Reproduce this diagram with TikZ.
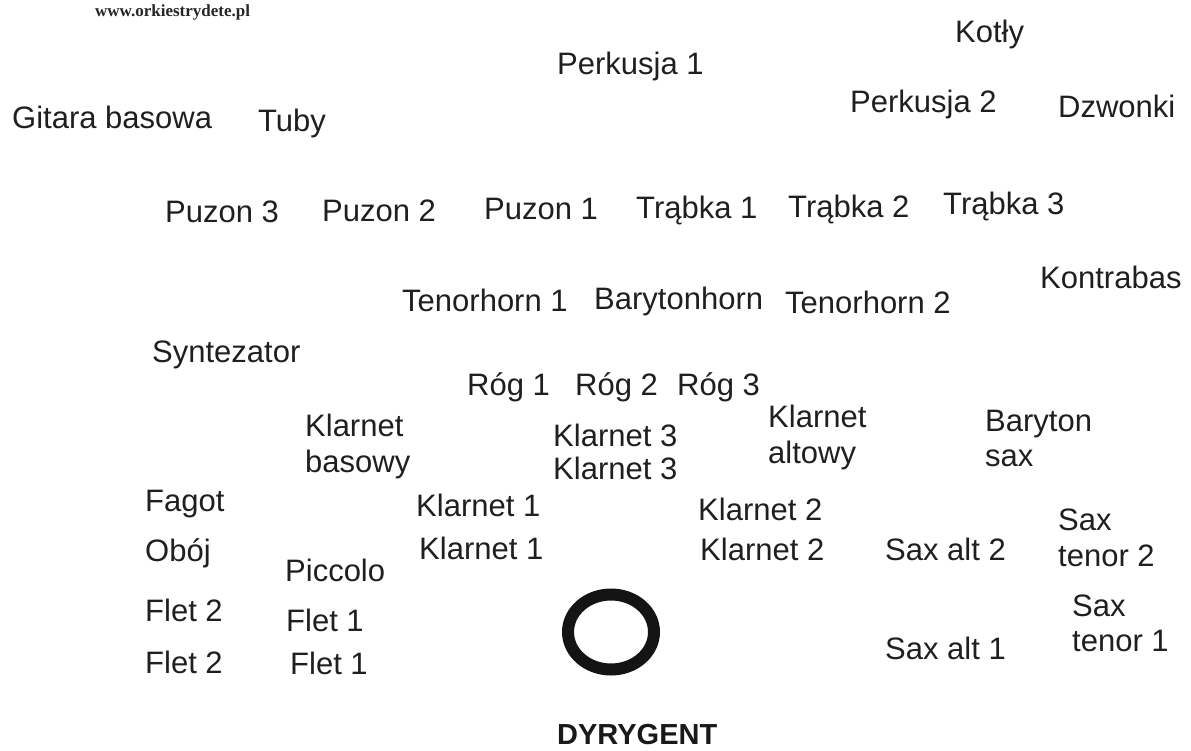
\documentclass[tikz,border=0pt]{standalone}
\usepackage{fontspec}
\setmainfont{Liberation Sans}
\newfontfamily\webfont{Liberation Serif}
\begin{document}
\begin{tikzpicture}[x=1pt,y=-1pt,
  lbl/.style={anchor=base west,inner sep=0pt,text=black!88,font=\fontsize{31}{36}\selectfont},
  web/.style={anchor=base west,inner sep=0pt,text=black!85,font=\webfont\bfseries\fontsize{17}{20}\selectfont},
  boss/.style={anchor=base west,inner sep=0pt,text=black!90,font=\bfseries\fontsize{29}{33}\selectfont},
  podium/.style={draw=black!92,line width=12pt}]
\useasboundingbox (0,0) rectangle (1191,751);
\node[web] (www) at (95,17) {www.orkiestrydete.pl};
\node[lbl] (kotly) at (955,43) {Kotły};
\node[lbl] (perk1) at (557,75) {Perkusja 1};
\node[lbl] (perk2) at (850,113) {Perkusja 2};
\node[lbl] (dzw) at (1058,118) {Dzwonki};
\node[lbl] (git) at (12,129) {Gitara basowa};
\node[lbl] (tuby) at (258,132) {Tuby};
\node[lbl] (puz3) at (165,223) {Puzon 3};
\node[lbl] (puz2) at (322,222) {Puzon 2};
\node[lbl] (puz1) at (484,220) {Puzon 1};
\node[lbl] (tr1) at (636,219) {Trąbka 1};
\node[lbl] (tr2) at (788,218) {Trąbka 2};
\node[lbl] (tr3) at (943,215) {Trąbka 3};
\node[lbl] (kbas) at (1040,289) {Kontrabas};
\node[lbl] (ten1) at (402,311) {Tenorhorn 1};
\node[lbl] (bar) at (594,309) {Barytonhorn};
\node[lbl] (ten2) at (785,313) {Tenorhorn 2};
\node[lbl] (synt) at (152,362) {Syntezator};
\node[lbl] (rog1) at (467,395) {Róg 1};
\node[lbl] (rog2) at (575,395) {Róg 2};
\node[lbl] (rog3) at (677,395) {Róg 3};
\node[lbl] (kbasA) at (305,436) {Klarnet};
\node[lbl] (kbasB) at (305,472) {basowy};
\node[lbl] (kl3a) at (553,446) {Klarnet 3};
\node[lbl] (kl3b) at (553,479) {Klarnet 3};
\node[lbl] (kaltA) at (768,427) {Klarnet};
\node[lbl] (kaltB) at (768,463) {altowy};
\node[lbl] (bsA) at (985,431) {Baryton};
\node[lbl] (bsB) at (985,466) {sax};
\node[lbl] (fagot) at (145,511) {Fagot};
\node[lbl] (kl1a) at (416,516) {Klarnet 1};
\node[lbl] (kl2a) at (698,520) {Klarnet 2};
\node[lbl] (st2A) at (1058,530) {Sax};
\node[lbl] (st2B) at (1058,566) {tenor 2};
\node[lbl] (oboj) at (145,561) {Obój};
\node[lbl] (kl1b) at (419,559) {Klarnet 1};
\node[lbl] (kl2b) at (700,560) {Klarnet 2};
\node[lbl] (sa2) at (885,560) {Sax alt 2};
\node[lbl] (picc) at (285,581) {Piccolo};
\node[lbl] (fl2a) at (145,621) {Flet 2};
\node[lbl] (fl1a) at (286,631) {Flet 1};
\node[lbl] (st1A) at (1072,616) {Sax};
\node[lbl] (st1B) at (1072,651) {tenor 1};
\node[lbl] (sa1) at (885,659) {Sax alt 1};
\node[lbl] (fl2b) at (145,673) {Flet 2};
\node[lbl] (fl1b) at (290,674) {Flet 1};
\draw[podium] (611,632) ellipse [x radius=43, y radius=37.5];
\node[boss] (dyr) at (557,744) {DYRYGENT};
\end{tikzpicture}
\end{document}
